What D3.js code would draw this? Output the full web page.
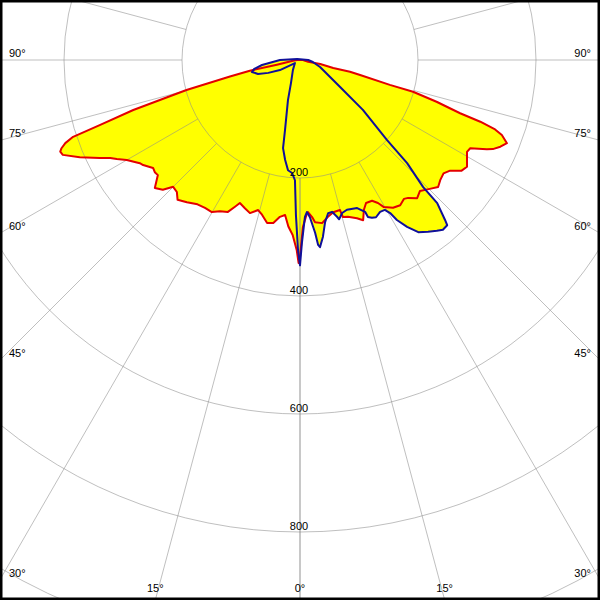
<!DOCTYPE html>
<html><head><meta charset="utf-8">
<script src="https://cdn.jsdelivr.net/npm/d3@7"></script>
<style>html,body{margin:0;padding:0;background:#fff}svg{display:block}</style>
</head><body>
<script>
// Red curve (gamma in degrees, negative = left half; intensity values)
const redAngles = [
  -90,-84,-78.5,-77.9,-76.7,-75.2,-73.3,-72.0,-71.3,-70.5,
  -69.7,-69.1,-68.2,-66.2,-63.9,-62.7,-61.6,-60.0,-57.2,-56.2,
  -53.7,-52.3,-51.0,-48.6,-46.6,-45.0,-43.0,-41.2,-38.5,-35.4,
  -32.7,-30.1,-27.9,-25.4,-23.9,-22.8,-20.4,-18.1,-15.6,-13.8,
  -11.4,-9.3,-7.3,-5.5,-4.0,-2.4,-1.0,-0.4,0,1.0,
  2.6,3.0,4.4,5.3,7.7,10.1,12.3,14.9,15.3,17.0,
  19.8,21.5,23.1,24.8,27.1,28.6,29.7,32.2,34.6,36.8,
  38.1,40.3,42.5,45.2,47.4,49.4,51.7,53.6,55.6,57.4,
  61.2,62.6,64.5,65.2,66.6,68.1,69.6,70.4,71.1,71.6,
  73.0,74.3,74.5,76.0,76.8,76.4,78.7,78.0,90
];
const redValues = [
  5,12,40,87,122,199,295,356,406,422,
  431,435,433,408,378,362,353,339,323,320,
  309,311,310,328,320,304,306,315,308,300,
  298,298,290,285,272,263,268,273,264,270,
  282,280,268,264,283,297,322,344,334,283,
  260,258,267,276,279,270,264,263,276,278,
  285,292,276,267,268,276,287,296,299,294,
  297,307,301,310,318,313,310,316,332,336,
  323,325,351,360,370,378,365,351,323,286,
  242,199,158,105,87,58,35,14,5
];
// Blue curve
const blueAngles = [
  -108,-90,-82.5,-78.9,-76,-71.6,-67.9,-63.4,-59,-35,
  -21.4,-16.7,-12.1,-10.9,-8.5,-6.2,-4.0,-2.4,-1.5,-0.6,
  0,0.6,1.8,2.6,3.6,5.0,5.6,6.1,7.4,8.8,
  10.4,11.9,13.3,13.8,15.4,17.4,21.1,23.2,23.4,24.5,
  25.8,27.8,29.5,30.5,31.2,32.7,34.5,36.7,38.7,40.1,
  41.7,42.2,43.8,44.1,46.1,47.4,51.6,56,70.7,81.3,
  90
];
const blueValues = [
  5,34,65,79,84,75,58,38,10,21,
  42,71,121,152,171,188,192,204,263,322,
  348,310,266,258,267,294,315,319,302,278,
  264,263,273,278,269,266,269,280,290,294,
  296,291,292,301,317,336,354,363,371,376,
  375,366,336,300,252,200,136,82,36,22,
  14
];
const ringValues = [200,400,600,800,1000];
const ringLabels = ["200","400","600","800"];
const spokeAngles = [0,15,30,45,60,75,90,105,120,135,150,165,180];
const angleLabels = [0,15,30,45,60,75,90];

const W = 600, H = 600, cx = 300, cy = 60;
const r = d3.scaleLinear().domain([0, 1000]).range([0, 590]);
const toRad = g => Math.PI - g * Math.PI / 180;

const svg = d3.select("body").append("svg").attr("width", W).attr("height", H);
svg.append("rect").attr("width", W).attr("height", H).attr("fill", "#fff");
const g = svg.append("g").attr("transform", `translate(${cx},${cy})`);

const line = d3.lineRadial()
  .angle(d => toRad(d[0]))
  .radius(d => r(d[1]))
  .curve(d3.curveLinearClosed);
const red = d3.zip(redAngles, redValues);
const blue = d3.zip(blueAngles, blueValues);

g.append("path").attr("d", line(red)).attr("fill", "#ffff00");
g.append("path").attr("d", line(blue)).attr("fill", "#ffff00");

// grid
const grid = g.append("g").attr("stroke", "#8a8a8a").attr("stroke-opacity", 0.55)
  .attr("fill", "none").attr("stroke-width", 1);
ringValues.forEach(v => grid.append("circle").attr("r", r(v)));
spokeAngles.forEach(a => [1, -1].forEach(s => {
  const gr = s * a * Math.PI / 180;
  const r0 = r(200), r1 = r(2500);
  grid.append("line")
    .attr("x1", r0 * Math.sin(gr)).attr("y1", r0 * Math.cos(gr))
    .attr("x2", r1 * Math.sin(gr)).attr("y2", r1 * Math.cos(gr));
}));

g.append("path").attr("d", line(red)).attr("fill", "none")
  .attr("stroke", "#e40000").attr("stroke-width", 2).attr("stroke-linejoin", "round");
g.append("path").attr("d", line(blue)).attr("fill", "none")
  .attr("stroke", "#10109a").attr("stroke-width", 2).attr("stroke-linejoin", "round");

// labels
const font = "'Liberation Sans', Arial, sans-serif";
const labels = svg.append("g").attr("font-family", font).attr("font-size", 11).attr("fill", "#000");
ringLabels.forEach(t => {
  labels.append("text").attr("x", cx - 1).attr("y", cy + r(+t) - 2.5)
    .attr("text-anchor", "middle").text(t);
});
angleLabels.forEach(a => {
  const sides = a === 0 ? [1] : [-1, 1];
  sides.forEach(s => {
    const gr = a * Math.PI / 180;
    const dx = s * Math.sin(gr), dy = Math.cos(gr);
    const tX = Math.abs(dx) > 1e-9 ? (W / 2) / Math.abs(dx) : Infinity;
    const tY = dy > 1e-9 ? (H - cy) / dy : Infinity;
    if (tX <= tY) {
      const y = cy + dy * tX;
      labels.append("text").attr("x", s < 0 ? 9 : W - 9).attr("y", y - 3)
        .attr("text-anchor", s < 0 ? "start" : "end").text(a + "°");
    } else {
      const x = cx + dx * tY;
      labels.append("text").attr("x", x).attr("y", H - 8)
        .attr("text-anchor", "middle").text(a + "°");
    }
  });
});

svg.append("rect").attr("x", 1.25).attr("y", 1.25).attr("width", W - 2.5).attr("height", H - 2.5)
  .attr("fill", "none").attr("stroke", "#000").attr("stroke-width", 2.5);
</script>
</body></html>
